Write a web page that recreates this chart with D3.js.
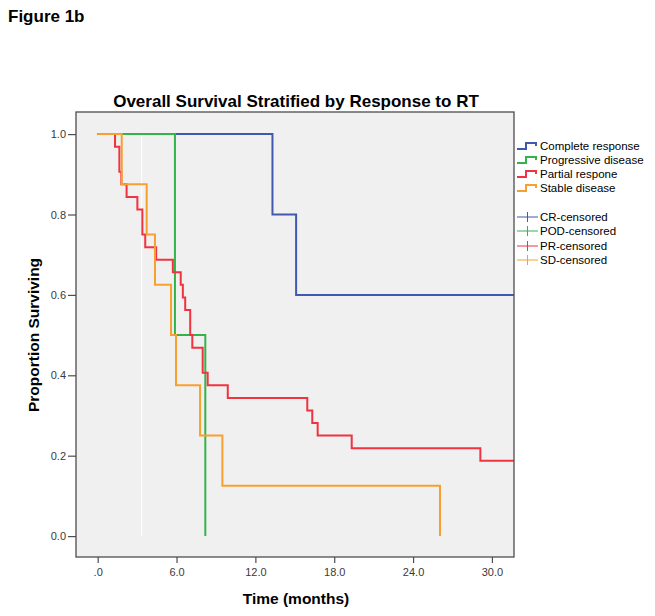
<!DOCTYPE html>
<html>
<head>
<meta charset="utf-8">
<script src="https://cdn.jsdelivr.net/npm/d3@7"></script>
<style>
  html, body { margin: 0; padding: 0; background: #ffffff; }
  svg { display: block; font-family: "Liberation Sans", Arial, sans-serif; }
</style>
</head>
<body>
<svg id="chart" width="655" height="616"></svg>
<script>
// ---------- data ----------
const seriesNames = ["Complete response", "Progressive disease", "Partial respone", "Stable disease"];
const censorNames = ["CR-censored", "POD-censored", "PR-censored", "SD-censored"];
const seriesColors = ["#4159ad", "#35b34a", "#ef3340", "#f7a030"];

const crTimes = [0, 13.3, 15.1, 33];
const crSurv  = [1, 0.8, 0.6, 0.6];

const podTimes = [0, 5.88, 8.19];
const podSurv  = [1, 0.5, 0];

const prTimes = [0, 1.32, 1.65, 1.8, 2.2, 3.02, 3.4, 3.62, 4.45, 5.72, 6.32, 6.48, 6.66, 7.04, 7.2, 7.99, 8.37, 9.9, 15.95, 16.33, 16.74, 19.33, 29.12, 33];
const prSurv  = [1, 0.96875, 0.90625, 0.875, 0.84375, 0.8125, 0.75, 0.71875, 0.6875, 0.65625, 0.625, 0.59375, 0.5625, 0.5, 0.46875, 0.40625, 0.375, 0.34375, 0.3125, 0.28125, 0.25, 0.21875, 0.1875, 0.1875];

const sdTimes = [0, 1.83, 3.73, 4.36, 5.58, 5.96, 7.79, 9.49, 26.05];
const sdSurv  = [1, 0.875, 0.75, 0.625, 0.5, 0.375, 0.25, 0.125, 0];

const xTicks = [0, 6, 12, 18, 24, 30];
const xTickLabels = [".0", "6.0", "12.0", "18.0", "24.0", "30.0"];
const yTicks = [0, 0.2, 0.4, 0.6, 0.8, 1.0];
const yTickLabels = ["0.0", "0.2", "0.4", "0.6", "0.8", "1.0"];

const referenceLineTime = 3.35;

const figureLabel = "Figure 1b";
const chartTitle = "Overall Survival Stratified by Response to RT";
const xTitle = "Time (months)";
const yTitle = "Proportion Surviving";

// ---------- layout ----------
const svg = d3.select("#chart");
const plot = { left: 76, right: 514, top: 112, bottom: 557 };

const x = d3.scaleLinear().domain([-1.65, 31.68]).range([plot.left, plot.right]);
const y = d3.scaleLinear().domain([-0.052, 1.055]).range([plot.bottom, plot.top]);

// figure label
svg.append("text")
  .attr("x", 8).attr("y", 22)
  .attr("font-size", 17).attr("font-weight", "bold").attr("fill", "#000")
  .text(figureLabel);

// title
svg.append("text")
  .attr("x", 296).attr("y", 107)
  .attr("text-anchor", "middle")
  .attr("font-size", 17).attr("font-weight", "bold").attr("fill", "#000")
  .text(chartTitle);

// plot background
svg.append("rect")
  .attr("x", plot.left).attr("y", plot.top)
  .attr("width", plot.right - plot.left).attr("height", plot.bottom - plot.top)
  .attr("fill", "#f0f0f0");

svg.append("defs").append("clipPath").attr("id", "clip")
  .append("rect")
  .attr("x", plot.left).attr("y", plot.top)
  .attr("width", plot.right - plot.left).attr("height", plot.bottom - plot.top);

const g = svg.append("g").attr("clip-path", "url(#clip)");

// white reference line
g.append("line")
  .attr("x1", x(referenceLineTime)).attr("x2", x(referenceLineTime))
  .attr("y1", y(1)).attr("y2", y(0))
  .attr("stroke", "#ffffff").attr("stroke-width", 1);

const line = d3.line()
  .x(d => x(d[0])).y(d => y(d[1]))
  .curve(d3.curveStepAfter);

const allSeries = [
  d3.zip(crTimes, crSurv),
  d3.zip(podTimes, podSurv),
  d3.zip(prTimes, prSurv),
  d3.zip(sdTimes, sdSurv)
];

allSeries.forEach((pts, i) => {
  g.append("path")
    .attr("d", line(pts))
    .attr("fill", "none")
    .attr("stroke", seriesColors[i])
    .attr("stroke-width", 2)
    .attr("stroke-linejoin", "miter");
});

// frame
svg.append("rect")
  .attr("x", plot.left).attr("y", plot.top)
  .attr("width", plot.right - plot.left).attr("height", plot.bottom - plot.top)
  .attr("fill", "none").attr("stroke", "#4d4d4d").attr("stroke-width", 1.3);

// axes
const yAxis = d3.axisLeft(y).tickValues(yTicks)
  .tickFormat((d, i) => yTickLabels[i]).tickSize(8).tickSizeOuter(0).tickPadding(2);
const yg = svg.append("g").attr("transform", `translate(${plot.left},0)`).call(yAxis);
yg.select(".domain").remove();
yg.selectAll(".tick line").attr("stroke", "#4d4d4d").attr("stroke-width", 1.2);
yg.selectAll(".tick text").attr("font-size", 11).attr("fill", "#3a3a3a")
  .attr("font-family", "Liberation Sans, Arial, sans-serif");

const xAxis = d3.axisBottom(x).tickValues(xTicks)
  .tickFormat((d, i) => xTickLabels[i]).tickSize(6).tickSizeOuter(0).tickPadding(5);
const xg = svg.append("g").attr("transform", `translate(0,${plot.bottom})`).call(xAxis);
xg.select(".domain").remove();
xg.selectAll(".tick line").attr("stroke", "#4d4d4d").attr("stroke-width", 1.2);
xg.selectAll(".tick text").attr("font-size", 11).attr("fill", "#3a3a3a")
  .attr("font-family", "Liberation Sans, Arial, sans-serif");

// axis titles
svg.append("text")
  .attr("x", 296).attr("y", 604)
  .attr("text-anchor", "middle")
  .attr("font-size", 15.5).attr("font-weight", "bold").attr("fill", "#000")
  .text(xTitle);

svg.append("text")
  .attr("transform", `translate(39,335) rotate(-90)`)
  .attr("text-anchor", "middle")
  .attr("font-size", 15.5).attr("font-weight", "bold").attr("fill", "#000")
  .text(yTitle);

// legend
const legX = 517;
const legRowY = [146, 160, 174, 188];
const legCensY = [217, 231, 246, 260];

seriesNames.forEach((name, i) => {
  const gy = legRowY[i];
  svg.append("path")
    .attr("d", `M${legX},${gy + 3}H${legX + 9}V${gy - 3}H${legX + 19}V${gy}`)
    .attr("fill", "none").attr("stroke", seriesColors[i]).attr("stroke-width", 2);
  svg.append("text")
    .attr("x", legX + 23).attr("y", gy + 4)
    .attr("font-size", 11.5).attr("fill", "#000")
    .text(name);
});

censorNames.forEach((name, i) => {
  const gy = legCensY[i];
  svg.append("line")
    .attr("x1", legX).attr("x2", legX + 21).attr("y1", gy).attr("y2", gy)
    .attr("stroke", seriesColors[i]).attr("stroke-width", 1);
  svg.append("line")
    .attr("x1", legX + 10.5).attr("x2", legX + 10.5).attr("y1", gy - 5).attr("y2", gy + 5)
    .attr("stroke", seriesColors[i]).attr("stroke-width", 1);
  svg.append("text")
    .attr("x", legX + 23).attr("y", gy + 4)
    .attr("font-size", 11.5).attr("fill", "#000")
    .text(name);
});
</script>
</body>
</html>
